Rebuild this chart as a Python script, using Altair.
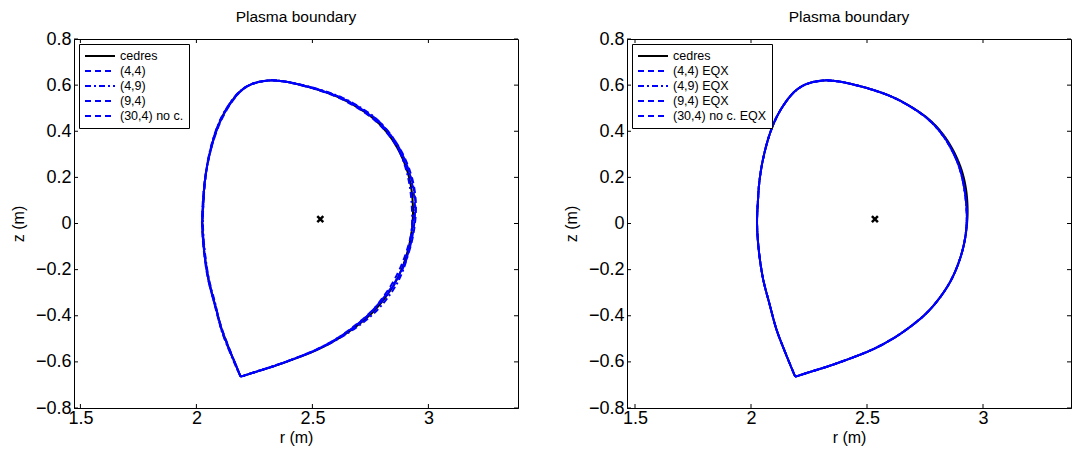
import altair as alt
import pandas as pd

# ---------------- data ----------------
z_pts = [-0.663, -0.610, -0.540, -0.460, -0.350, -0.240, -0.120, 0.000, 0.100, 0.180,
         0.270, 0.370, 0.450, 0.520, 0.572, 0.603, 0.620, 0.617, 0.603, 0.578,
         0.545, 0.500, 0.450, 0.390, 0.320, 0.240, 0.160, 0.080, 0.010, -0.080,
         -0.170, -0.250, -0.320, -0.385, -0.445, -0.500, -0.548, -0.588, -0.620, -0.645,
         -0.661, -0.663]

r_cedres = [2.190, 2.168, 2.140, 2.110, 2.080, 2.052, 2.034, 2.026, 2.030, 2.036,
            2.050, 2.075, 2.105, 2.145, 2.188, 2.235, 2.310, 2.370, 2.440, 2.530,
            2.618, 2.700, 2.769, 2.825, 2.870, 2.905, 2.925, 2.933, 2.932, 2.920,
            2.895, 2.860, 2.815, 2.760, 2.690, 2.610, 2.520, 2.420, 2.330, 2.250,
            2.200, 2.190]

r_44 = [2.190, 2.169, 2.138, 2.108, 2.078, 2.051, 2.033, 2.025, 2.029, 2.036,
        2.051, 2.076, 2.106, 2.146, 2.189, 2.236, 2.310, 2.372, 2.444, 2.536,
        2.625, 2.708, 2.778, 2.834, 2.878, 2.912, 2.932, 2.942, 2.940, 2.926,
        2.898, 2.858, 2.808, 2.750, 2.680, 2.602, 2.515, 2.418, 2.330, 2.252,
        2.201, 2.190]

r_49 = [2.190, 2.166, 2.137, 2.107, 2.082, 2.054, 2.036, 2.028, 2.031, 2.037,
        2.049, 2.073, 2.103, 2.143, 2.186, 2.233, 2.309, 2.371, 2.446, 2.540,
        2.630, 2.712, 2.780, 2.832, 2.872, 2.902, 2.920, 2.928, 2.930, 2.922,
        2.902, 2.870, 2.826, 2.770, 2.697, 2.612, 2.518, 2.416, 2.326, 2.248,
        2.199, 2.190]

r_94 = [2.190, 2.169, 2.141, 2.111, 2.079, 2.050, 2.032, 2.024, 2.028, 2.035,
        2.050, 2.077, 2.108, 2.148, 2.190, 2.237, 2.311, 2.371, 2.442, 2.533,
        2.622, 2.704, 2.774, 2.832, 2.880, 2.916, 2.938, 2.946, 2.943, 2.928,
        2.900, 2.862, 2.812, 2.754, 2.684, 2.604, 2.514, 2.416, 2.328, 2.250,
        2.200, 2.190]

r_304 = [2.190, 2.168, 2.139, 2.109, 2.079, 2.052, 2.035, 2.027, 2.031, 2.037,
         2.050, 2.074, 2.104, 2.144, 2.187, 2.234, 2.309, 2.369, 2.438, 2.527,
         2.614, 2.696, 2.766, 2.824, 2.872, 2.910, 2.935, 2.944, 2.936, 2.918,
         2.888, 2.850, 2.804, 2.752, 2.686, 2.606, 2.516, 2.418, 2.329, 2.251,
         2.200, 2.190]

r_eqx = [2.190, 2.168, 2.140, 2.110, 2.080, 2.052, 2.034, 2.026, 2.030, 2.036,
         2.050, 2.075, 2.105, 2.145, 2.188, 2.235, 2.310, 2.370, 2.440, 2.530,
         2.617, 2.698, 2.766, 2.821, 2.865, 2.899, 2.918, 2.928, 2.930, 2.920,
         2.895, 2.860, 2.815, 2.760, 2.690, 2.610, 2.520, 2.420, 2.330, 2.250,
         2.200, 2.190]

center_r = [2.534]
center_z = [0.019]

x_ticks = [1.5, 2.0, 2.5, 3.0]
y_ticks = [-0.8, -0.6, -0.4, -0.2, 0.0, 0.2, 0.4, 0.6, 0.8]

left_names = ["cedres", "(4,4)", "(4,9)", "(9,4)", "(30,4) no c."]
right_names = ["cedres", "(4,4) EQX", "(4,9) EQX", "(9,4) EQX", "(30,4) no c. EQX"]

# ---------------- layout / style ----------------
W, H = 444, 369
TICK = 4
FONT = "Liberation Sans"
BLUE = "#0000ff"


def panel(names, r_lists, dashes, offsets, xdom):
    rows = []
    for name, rl in zip(names, r_lists):
        for i, (r, z) in enumerate(zip(rl, z_pts)):
            rows.append({"series": name, "r": r, "z": z, "i": i})
    df = pd.DataFrame(rows)

    xs = alt.Scale(domain=xdom, nice=False, zero=False)
    ys = alt.Scale(domain=[-0.8, 0.8], nice=False, zero=False)
    xax = alt.Axis(values=x_ticks, ticks=False, format=".1~f", grid=False,
                   labelFontSize=18, titleFontSize=16, labelPadding=1,
                   titlePadding=2, labelFlush=False)
    yax = alt.Axis(values=y_ticks, ticks=False, format=".1~f", grid=False,
                   labelFontSize=18, titleFontSize=16, labelPadding=3,
                   titlePadding=9, labelFlush=False)
    X = alt.X("r:Q", scale=xs, axis=xax, title="r (m)")
    Y = alt.Y("z:Q", scale=ys, axis=yax, title="z (m)")

    leg = alt.Legend(title=None, orient="top-left", offset=5, fillColor="white",
                     strokeColor="black", padding=5, labelFontSize=12.5,
                     labelFont=FONT, labelColor="black",
                     symbolType="M-1,0H4", symbolSize=144,
                     symbolStrokeWidth=2, rowPadding=1,
                     labelOffset=22, labelLimit=200)
    color = alt.Color("series:N", scale=alt.Scale(domain=names,
                      range=["black", BLUE, BLUE, BLUE, BLUE]), legend=leg)
    dash = alt.StrokeDash("series:N", scale=alt.Scale(domain=names, range=dashes),
                          legend=leg)

    layers = []
    for name, off in zip(names, offsets):
        layers.append(
            alt.Chart(df)
            .transform_filter(alt.datum.series == name)
            .mark_line(strokeWidth=2, strokeDashOffset=off, interpolate="catmull-rom")
            .encode(x=X, y=Y, color=color, strokeDash=dash, order="i:Q")
        )

    cdf = pd.DataFrame({"r": center_r, "z": center_z})
    center = alt.Chart(cdf).mark_point(shape="M-1,-1L1,1M-1,1L1,-1", filled=False,
                                       color="black", opacity=1, strokeWidth=2.5,
                                       size=36).encode(x=X, y=Y)

    tx = pd.DataFrame({"r": x_ticks})
    ty = pd.DataFrame({"z": y_ticks})
    tk = dict(color="black", strokeWidth=1)
    t_bot = alt.Chart(tx).mark_rule(**tk).encode(x=X, y=alt.value(H), y2=alt.value(H - TICK))
    t_top = alt.Chart(tx).mark_rule(**tk).encode(x=X, y=alt.value(0), y2=alt.value(TICK))
    t_lft = alt.Chart(ty).mark_rule(**tk).encode(y=Y, x=alt.value(0), x2=alt.value(TICK))
    t_rgt = alt.Chart(ty).mark_rule(**tk).encode(y=Y, x=alt.value(W), x2=alt.value(W - TICK))

    return alt.layer(t_bot, t_top, t_lft, t_rgt, *layers, center).properties(
        width=W, height=H,
        title=alt.Title("Plasma boundary", fontSize=15.5, fontWeight="normal",
                        font=FONT, color="black", offset=5),
    )


dashes = [[1, 0], [6, 4], [6, 3, 2, 3], [6, 4], [6, 4]]
left = panel(left_names, [r_cedres, r_44, r_49, r_94, r_304], dashes,
             [0, 0, 3, 5, 7.5], [1.4724, 3.3862])
right = panel(right_names, [r_cedres, r_eqx, r_eqx, r_eqx, r_eqx], dashes,
              [0, 0, 2.5, 5, 7.5], [1.4655, 3.3793])

chart = (
    alt.hconcat(left, right, spacing=43)
    .resolve_scale(x="independent", y="independent", color="independent",
                   strokeDash="independent")
    .configure(padding={"left": 1, "top": 1, "right": 5, "bottom": 5})
    .configure_view(stroke="black", strokeWidth=1)
    .configure_axis(domainColor="black", domainWidth=1, labelColor="black",
                    titleColor="black", labelFont=FONT, titleFont=FONT,
                    titleFontWeight="normal")
)

chart.save("out.html", embed_options={"renderer": "svg", "actions": False})
